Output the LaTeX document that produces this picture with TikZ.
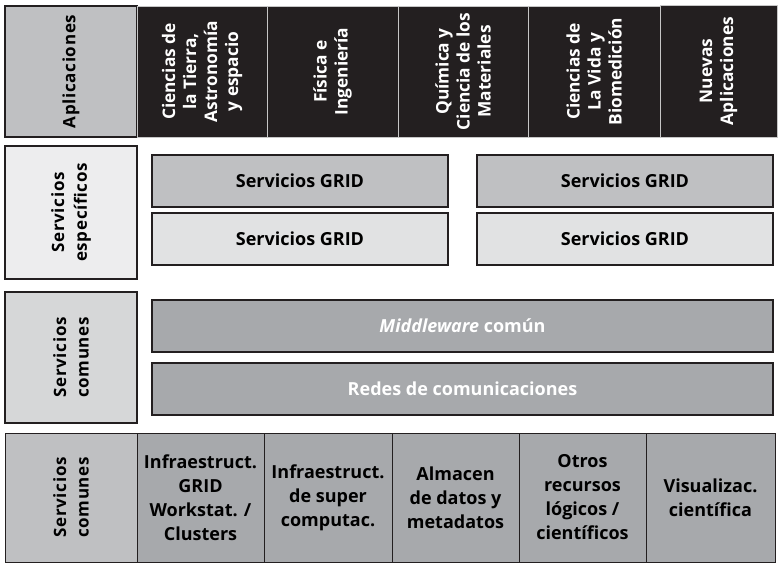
\documentclass[tikz,border=0pt]{standalone}
\usepackage{fontspec}
\setmainfont{Open Sans}
\newfontfamily\spacedfont{Open Sans}[LetterSpace=4]
\usetikzlibrary{positioning}

\definecolor{ink}{HTML}{231F20}
\definecolor{toneA}{HTML}{BFC0C2}
\definecolor{toneB}{HTML}{EDEDEE}
\definecolor{toneC}{HTML}{E1E2E3}
\definecolor{toneD}{HTML}{D6D7D8}
\definecolor{toneE}{HTML}{A7A9AC}

\begin{document}
\begin{tikzpicture}[x=0.75pt, y=-0.75pt,
    every node/.style={inner sep=0pt, align=center},
    headbox/.style={draw=ink, line width=2.2pt, rotate=90, minimum height=99pt,
      font=\spacedfont\bfseries\fontsize{12.75}{17}\selectfont},
    appbox/.style={fill=ink, draw=gray!45, line width=0.6pt, rotate=90, text=white,
      minimum width=98.25pt, font=\bfseries\fontsize{13}{15.75}\selectfont},
    gridbox/.style={draw=ink, line width=2.2pt, minimum width=222pt, minimum height=39pt,
      font=\bfseries\fontsize{13.5}{15}\selectfont},
    layerbox/.style={gridbox, fill=toneE, text=white, minimum width=465.75pt},
    infrabox/.style={draw=ink, line width=0.6pt, fill=toneE, minimum height=96.75pt,
      font=\bfseries\fontsize{13.5}{18}\selectfont}
  ]
  \useasboundingbox (0,0) rectangle (778,563);

  % aplicaciones
  \node[headbox, fill=toneA, minimum width=98.25pt] (apl) at (71,71.5) {Aplicaciones};
  \node[appbox, minimum height=97.5pt] (tierra) at (202,71.5) {Ciencias de\\la Tierra,\\Astronomía\\y espacio};
  \node[appbox, minimum height=98.25pt] (fisica) at (332.5,71.5) {Física e\\Ingeniería};
  \node[appbox, minimum height=97.5pt] (quimica) at (463,71.5) {Química y\\Ciencia de  los\\Materiales};
  \node[appbox, minimum height=99pt] (vida) at (594,71.5) {Ciencias de\\La Vida y\\Biomedición};
  \node[appbox, minimum height=87.75pt, minimum width=99pt] (nuevas) at (718.5,71) {Nuevas\\Aplicaciones};

  % servicios especificos
  \node[headbox, fill=toneB, minimum width=99.75pt] (espec) at (71,212.5) {Servicios\\específicos};
  \node[gridbox, fill=toneA] (gridA) at (300,181) {Servicios GRID};
  \node[gridbox, fill=toneA] (gridB) at (625,181) {Servicios GRID};
  \node[gridbox, fill=toneC] (gridC) at (300,239) {Servicios GRID};
  \node[gridbox, fill=toneC] (gridD) at (625,239) {Servicios GRID};

  % servicios comunes
  \node[headbox, fill=toneD, minimum width=98.25pt] (comun) at (71,357.5) {Servicios\\comunes};
  \node[layerbox] (mw) at (462.5,326) {\textit{Middleware} común};
  \node[layerbox] (redes) at (462.5,389) {Redes de comunicaciones};

  % recursos
  \node[headbox, fill=toneA, line width=0.6pt, minimum width=96.75pt] (base) at (71,497.5) {Servicios\\comunes};
  \node[infrabox, minimum width=95.25pt] (wks) at (200.5,497.5) {Infraestruct.\\GRID\\Workstat. /\\Clusters};
  \node[infrabox, minimum width=96pt] (super) at (328,497.5) {Infraestruct.\\de super\\computac.};
  \node[infrabox, minimum width=95.25pt] (datos) at (455.5,497.5) {Almacen\\de datos y\\metadatos};
  \node[infrabox, minimum width=95.25pt] (otros) at (582.5,497.5) {Otros\\recursos\\lógicos /\\científicos};
  \node[infrabox, minimum width=96.75pt] (visual) at (710.5,497.5) {Visualizac.\\científica};
\end{tikzpicture}
\end{document}
